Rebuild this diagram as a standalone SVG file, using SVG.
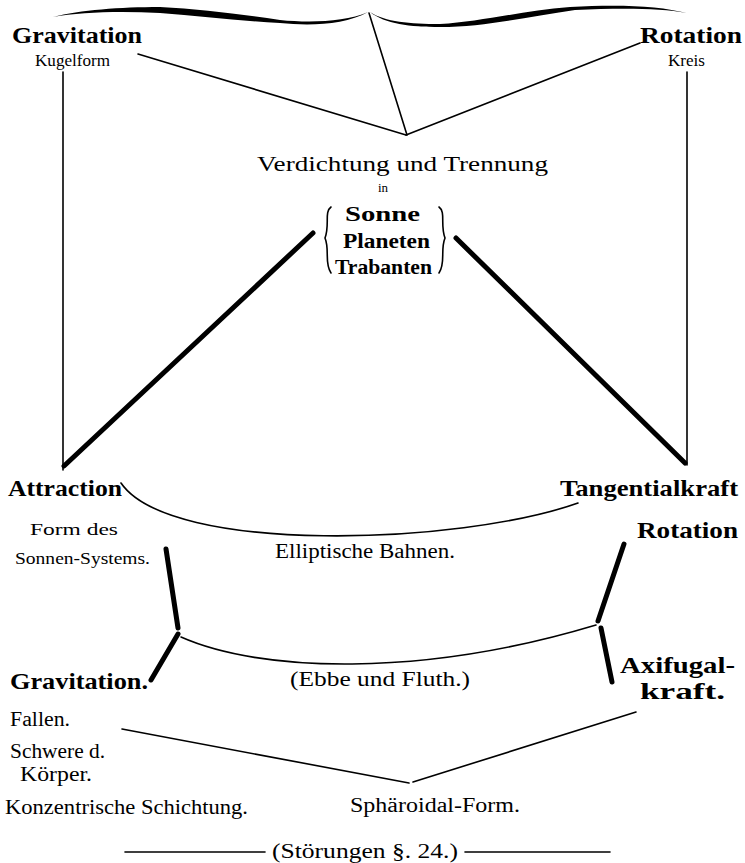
<svg xmlns="http://www.w3.org/2000/svg" width="745" height="863" viewBox="0 0 745 863">
<style>
.t{font-family:"Liberation Serif","DejaVu Serif",serif;fill:#000}
.h{font-weight:bold;font-size:24px}
.m{font-size:20px}
.s{font-size:16px}
.ln{stroke:#000;fill:none;stroke-width:1.6;stroke-linecap:round}
.th{stroke:#000;fill:none;stroke-width:5;stroke-linecap:round}
</style>
<rect width="745" height="863" fill="#fff"/>
<g id="connectors">
<path d="M53,17 C80,10 120,7 160,7 C200,9 240,14 280,20 C310,23 345,22 368,12 C345,25 310,26 280,23 C240,21 200,16 160,13 C120,11 80,12 53,17 Z" fill="#000"/>
<path d="M370,12 C385,22 410,24 440,24 C480,22 520,11 570,7 C620,4 660,6 687,13 C660,8 620,8 575,10 C525,17 485,27 440,27 C410,27 385,24 370,12 Z" fill="#000"/>
<line class="ln" x1="369" y1="13" x2="407" y2="135"/>
<line class="ln" x1="138" y1="54" x2="406" y2="135"/>
<line class="ln" x1="406" y1="135" x2="640" y2="43"/>
<line class="ln" x1="63" y1="72" x2="63" y2="470"/>
<line class="ln" x1="687" y1="72" x2="687" y2="465"/>
<line class="th" x1="313" y1="233" x2="64" y2="466"/>
<line class="th" x1="456" y1="238" x2="685" y2="463"/>
<path class="ln" d="M121,483 C170,555 460,545 578,503"/>
<line class="th" x1="166" y1="549" x2="178" y2="628"/>
<line class="th" x1="178" y1="634" x2="151" y2="680"/>
<line class="th" x1="624" y1="544" x2="598" y2="621"/>
<line class="th" x1="601" y1="628" x2="612" y2="682"/>
<path class="ln" d="M181,637 C260,672 420,678 596,625"/>
<line class="ln" x1="122" y1="729" x2="409" y2="783"/>
<line class="ln" x1="413" y1="782" x2="636" y2="712"/>
<line class="ln" x1="125" y1="852" x2="265" y2="852"/>
<line class="ln" x1="465" y1="852" x2="610" y2="852"/>
<path class="ln" d="M331,207 C324,212 330,225 325,238 C330,250 324,263 331,273"/>
<path class="ln" d="M439,207 C446,212 440,225 445,238 C440,250 446,263 439,273"/>
</g>
<g id="gravitation-top"><text class="t h" x="12" y="43" textLength="130" lengthAdjust="spacingAndGlyphs">Gravitation</text><text class="t s" x="35" y="66" textLength="75" lengthAdjust="spacingAndGlyphs">Kugelform</text></g>
<g id="rotation-top"><text class="t h" x="640" y="43" textLength="102" lengthAdjust="spacingAndGlyphs">Rotation</text><text class="t s" x="668" y="66" textLength="37" lengthAdjust="spacingAndGlyphs">Kreis</text></g>
<g id="verdichtung"><text class="t m" x="257" y="171" textLength="291" lengthAdjust="spacingAndGlyphs">Verdichtung und Trennung</text><text class="t" x="383" y="192" text-anchor="middle" font-size="13">in</text>
<text class="t m" x="345" y="221" textLength="75" lengthAdjust="spacingAndGlyphs" font-weight="bold">Sonne</text>
<text class="t m" x="343" y="248" textLength="87" lengthAdjust="spacingAndGlyphs" font-weight="bold">Planeten</text>
<text class="t m" x="335" y="274" textLength="97" lengthAdjust="spacingAndGlyphs" font-weight="bold">Trabanten</text></g>
<g id="attraction"><text class="t h" x="8" y="496" textLength="114" lengthAdjust="spacingAndGlyphs">Attraction</text></g>
<g id="tangentialkraft"><text class="t h" x="560" y="496" textLength="178" lengthAdjust="spacingAndGlyphs">Tangentialkraft</text></g>
<g id="form"><text class="t s" x="30" y="535" textLength="88" lengthAdjust="spacingAndGlyphs">Form des</text><text class="t s" x="15" y="564" textLength="135" lengthAdjust="spacingAndGlyphs">Sonnen-Systems.</text></g>
<g id="elliptische"><text class="t m" x="275" y="558" textLength="180" lengthAdjust="spacingAndGlyphs">Elliptische Bahnen.</text></g>
<g id="rotation-mid"><text class="t h" x="637" y="538" textLength="101" lengthAdjust="spacingAndGlyphs">Rotation</text></g>
<g id="gravitation-low"><text class="t h" x="10" y="689" textLength="138" lengthAdjust="spacingAndGlyphs">Gravitation.</text></g>
<g id="ebbe"><text class="t m" x="290" y="686" textLength="180" lengthAdjust="spacingAndGlyphs">(Ebbe und Fluth.)</text></g>
<g id="axifugal"><text class="t h" x="620" y="673" textLength="115" lengthAdjust="spacingAndGlyphs">Axifugal-</text><text class="t h" x="640" y="699" textLength="85" lengthAdjust="spacingAndGlyphs">kraft.</text></g>
<g id="fallen"><text class="t m" x="10" y="726" textLength="60" lengthAdjust="spacingAndGlyphs">Fallen.</text><text class="t m" x="10" y="758" textLength="95" lengthAdjust="spacingAndGlyphs">Schwere d.</text><text class="t m" x="20" y="781" textLength="72" lengthAdjust="spacingAndGlyphs">Körper.</text><text class="t m" x="5" y="814" textLength="243" lengthAdjust="spacingAndGlyphs">Konzentrische Schichtung.</text></g>
<g id="sphaeroidal"><text class="t m" x="350" y="812" textLength="170" lengthAdjust="spacingAndGlyphs">Sphäroidal-Form.</text></g>
<g id="stoerungen"><text class="t m" x="272" y="858" textLength="186" lengthAdjust="spacingAndGlyphs">(Störungen §. 24.)</text></g>
</svg>
